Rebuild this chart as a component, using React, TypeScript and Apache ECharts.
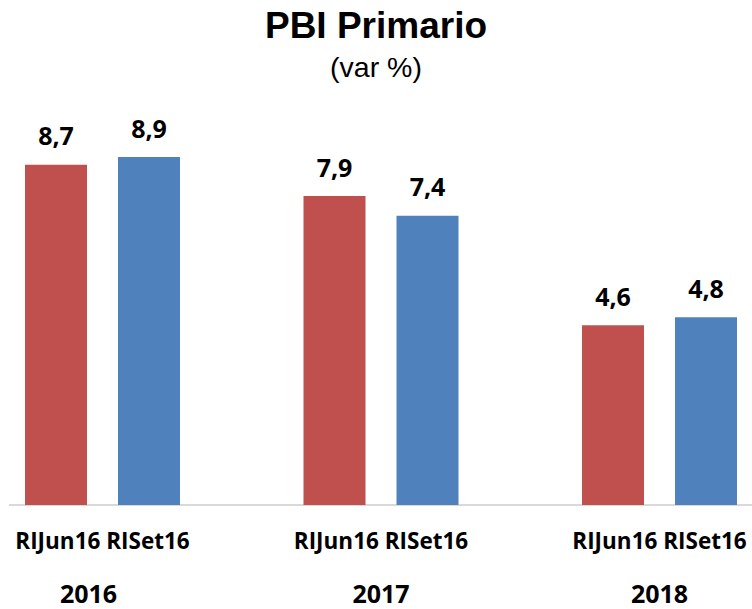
import React, { useEffect, useRef } from "react";
import * as echarts from "echarts";

const categories = ["2016", "2017", "2018"];
const seriesNames = ["RIJun16", "RISet16"];
const rijun16 = [8.7, 7.9, 4.6];
const riset16 = [8.9, 7.4, 4.8];

const RED = "#C0504D";
const BLUE = "#4F81BD";
const LABEL_FONT = "'Open Sans', 'DejaVu Sans', sans-serif";

export default function App() {
  const ref = useRef<HTMLDivElement>(null);
  useEffect(() => {
    document.body.style.margin = "0";
    if (!ref.current) return;
    const chart = echarts.init(ref.current, null, { renderer: "svg" });
    const fmt = (v: number) => v.toFixed(1).replace(".", ",");
    const valueLabel = {
      show: true,
      position: "top",
      distance: 17,
      formatter: (p: any) => fmt(p.value),
      fontFamily: LABEL_FONT,
      fontWeight: "bold",
      fontSize: 25,
      color: "#000",
    };
    chart.setOption({
      animation: false,
      backgroundColor: "#fff",
      title: {
        text: "PBI Primario",
        subtext: "(var %)",
        left: "center",
        top: 2,
        itemGap: 8,
        textStyle: {
          fontFamily: "'Liberation Sans', Arial, sans-serif",
          fontWeight: "bold",
          fontSize: 37,
          color: "#000",
        },
        subtextStyle: {
          fontFamily: "'Liberation Sans', Arial, sans-serif",
          fontSize: 28.5,
          color: "#000",
        },
      },
      grid: {
        left: -36.75,
        width: 835.5,
        top: 114,
        bottom: 104,
        containLabel: false,
        outerBoundsMode: "none",
      },
      xAxis: [
        {
          type: "category",
          data: categories,
          position: "bottom",
          axisLine: { show: false },
          axisTick: { show: false },
          axisLabel: {
            margin: 24,
            formatter: () => `${seriesNames[0]} ${seriesNames[1]}`,
            fontFamily: LABEL_FONT,
            fontWeight: "bold",
            fontSize: 22.5,
            color: "#000",
          },
        },
        {
          type: "category",
          data: categories,
          position: "bottom",
          axisLine: { show: false },
          axisTick: { show: false },
          axisLabel: {
            margin: 75,
            formatter: (v: string, i: number) => (i === 0 ? `{a|${v}}` : `{b|${v}}`),
            rich: {
              a: {
                fontFamily: LABEL_FONT,
                fontWeight: "bold",
                fontSize: 25,
                color: "#000",
                padding: [0, 28, 12, 0],
              },
              b: {
                fontFamily: LABEL_FONT,
                fontWeight: "bold",
                fontSize: 25,
                color: "#000",
              },
            },
          },
        },
      ],
      yAxis: {
        type: "value",
        min: 0,
        max: 10,
        show: false,
        splitLine: { show: false },
      },
      graphic: [
        {
          type: "line",
          shape: { x1: 9, y1: 505, x2: 752, y2: 505 },
          style: { stroke: "#d9d9d9", lineWidth: 2 },
          z: 0,
        },
      ],
      series: [
        {
          name: seriesNames[0],
          type: "bar",
          data: rijun16,
          barWidth: 62,
          barGap: "50%",
          itemStyle: { color: RED },
          label: valueLabel,
          z: 2,
        },
        {
          name: seriesNames[1],
          type: "bar",
          data: riset16,
          barWidth: 62,
          barGap: "50%",
          itemStyle: { color: BLUE },
          label: valueLabel,
          z: 2,
        },
      ],
    });
    return () => chart.dispose();
  }, []);
  return <div ref={ref} style={{ width: 752, height: 609 }} />;
}
